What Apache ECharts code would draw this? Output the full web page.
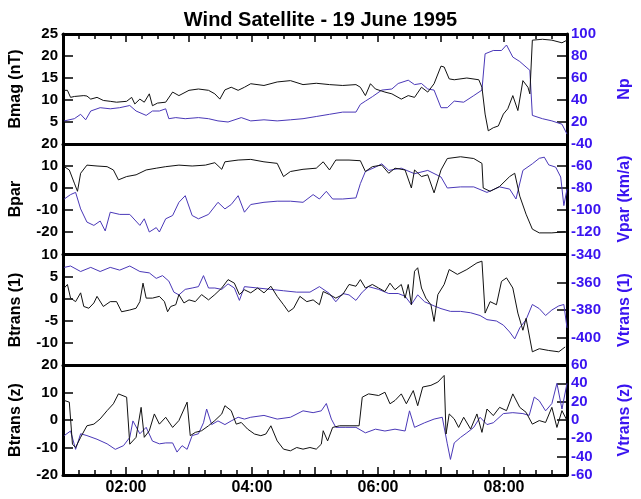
<!DOCTYPE html>
<html><head><meta charset="utf-8">
<script src="https://cdn.jsdelivr.net/npm/echarts@6/dist/echarts.min.js"></script>
<style>html,body{margin:0;padding:0;background:#fff}#c{width:641px;height:499px}</style>
</head><body><div id="c"></div>
<script>
// time in hours (UT), value
const bmag = [[1.02,12.2],[1.07,12.2],[1.12,10.6],[1.18,10.8],[1.33,11.0],[1.38,10.9],[1.44,10.2],[1.54,10.6],[1.64,9.9],[1.75,9.7],[1.85,9.5],[2.01,9.7],[2.09,10.6],[2.14,9.1],[2.22,10.2],[2.29,9.5],[2.37,11.4],[2.42,8.7],[2.50,9.3],[2.63,9.5],[2.74,11.8],[2.84,11.0],[3.00,12.2],[3.15,12.5],[3.31,12.2],[3.41,11.4],[3.49,10.2],[3.57,12.3],[3.67,12.9],[3.78,12.2],[3.88,12.9],[3.98,13.7],[4.19,13.3],[4.40,14.1],[4.61,14.4],[4.81,13.5],[5.02,13.8],[5.23,13.5],[5.44,13.3],[5.65,13.5],[5.72,12.9],[5.80,11.0],[5.88,13.7],[5.96,12.5],[6.11,11.8],[6.22,11.4],[6.37,10.2],[6.48,11.0],[6.58,10.6],[6.69,12.9],[6.79,11.8],[6.89,13.7],[7.00,17.7],[7.05,17.5],[7.13,14.8],[7.21,14.6],[7.41,15.0],[7.60,14.6],[7.65,12.9],[7.70,6.8],[7.75,3.0],[7.83,3.7],[7.91,4.1],[7.99,6.8],[8.06,8.0],[8.14,11.0],[8.22,7.6],[8.30,14.4],[8.38,12.9],[8.41,11.4],[8.45,23.6],[8.61,23.8],[8.76,23.6],[8.92,23.0],[9.00,23.6]];
const np = [[1.02,21],[1.18,23],[1.28,27],[1.36,22],[1.44,30],[1.59,33],[1.75,32],[1.90,33],[2.06,35],[2.16,30],[2.32,26],[2.42,30],[2.53,30],[2.63,32],[2.68,23],[2.79,24],[2.94,23],[3.15,24],[3.31,23],[3.46,21],[3.62,20],[3.83,24],[3.98,21],[4.19,22],[4.40,21],[4.61,22],[4.81,23],[5.02,25],[5.23,27],[5.44,29],[5.65,29],[5.72,36],[5.80,39],[5.91,43],[6.06,49],[6.22,50],[6.32,55],[6.48,58],[6.58,54],[6.69,55],[6.79,50],[6.89,49],[7.00,33],[7.10,33],[7.21,39],[7.36,38],[7.52,44],[7.65,49],[7.70,82],[7.83,85],[7.96,85],[8.04,90],[8.14,79],[8.25,75],[8.35,70],[8.41,67],[8.45,26],[8.61,23],[8.76,21],[8.92,18],[9.00,9]];
const bpar = [[1.02,9.7],[1.10,8.2],[1.18,2.2],[1.23,-1.5],[1.28,6.7],[1.38,10.4],[1.54,10],[1.70,9.7],[1.80,8.2],[1.88,3.7],[2.01,5.2],[2.16,6],[2.32,8.2],[2.48,9],[2.63,9.7],[2.84,10.4],[3.05,10],[3.26,10.4],[3.41,11.5],[3.52,8.5],[3.57,11.9],[3.78,12.7],[3.98,13],[4.19,11.9],[4.40,11.2],[4.50,5.2],[4.61,7.5],[4.81,8.5],[5.02,9],[5.13,11.9],[5.23,8.2],[5.33,12.7],[5.54,12.7],[5.72,12.4],[5.80,7.5],[5.91,9.7],[6.06,10.4],[6.17,6.7],[6.27,9],[6.43,8.2],[6.53,0],[6.58,8.2],[6.69,5.2],[6.79,6],[6.89,-2.2],[7.00,8.2],[7.10,13.4],[7.31,14.2],[7.52,13.4],[7.65,11.2],[7.67,0],[7.78,-1.5],[7.93,0.7],[8.09,5.2],[8.17,6.7],[8.25,-3.7],[8.35,-11.9],[8.45,-18.7],[8.56,-20.4],[8.76,-20.4],[8.97,-19.9]];
const vpar = [[1.02,-90],[1.12,-86],[1.20,-84],[1.28,-99],[1.38,-111],[1.49,-114],[1.59,-110],[1.67,-119],[1.75,-102],[1.90,-104],[2.06,-104],[2.22,-114],[2.29,-108],[2.37,-120],[2.48,-116],[2.53,-120],[2.63,-108],[2.74,-105],[2.84,-93],[2.94,-87],[3.05,-105],[3.15,-108],[3.31,-104],[3.46,-93],[3.57,-99],[3.67,-95],[3.78,-87],[3.88,-102],[3.98,-95],[4.19,-93],[4.40,-92],[4.61,-92],[4.81,-93],[4.97,-86],[5.07,-90],[5.18,-83],[5.28,-90],[5.44,-90],[5.65,-89],[5.72,-76],[5.80,-65],[5.96,-61],[6.06,-58],[6.17,-64],[6.37,-62],[6.58,-67],[6.79,-64],[7.00,-70],[7.10,-80],[7.31,-79],[7.52,-79],[7.73,-84],[7.93,-79],[8.09,-81],[8.19,-90],[8.30,-64],[8.45,-58],[8.56,-53],[8.64,-52],[8.71,-59],[8.82,-61],[8.90,-70],[8.95,-96],[9.00,-81]];
const btr1 = [[1.02,2.5],[1.07,3.3],[1.12,0.2],[1.20,-0.6],[1.28,1.4],[1.33,-1.7],[1.41,-2.1],[1.49,-0.9],[1.54,0.6],[1.64,-1.7],[1.75,-0.6],[1.85,-0.6],[1.93,-2.9],[2.06,-2.5],[2.16,-2.1],[2.22,-0.6],[2.27,3.6],[2.32,0.2],[2.42,0.2],[2.53,0.6],[2.61,-0.6],[2.66,-2.9],[2.71,-1.7],[2.79,-1.3],[2.84,1.0],[2.92,-0.9],[3.00,-0.2],[3.10,-0.6],[3.20,1.0],[3.31,-0.2],[3.41,1.0],[3.52,2.5],[3.62,4.4],[3.72,3.6],[3.80,1.0],[3.88,2.1],[3.98,1.4],[4.09,2.5],[4.19,1.4],[4.30,2.9],[4.40,0.6],[4.50,-1.3],[4.58,-2.9],[4.66,-2.1],[4.76,0.6],[4.87,-0.6],[4.97,-0.2],[5.07,-1.3],[5.13,1.7],[5.23,1.0],[5.33,0.2],[5.44,1.0],[5.54,3.3],[5.65,2.9],[5.72,4.4],[5.80,2.5],[5.91,3.3],[6.01,2.5],[6.11,1.7],[6.19,3.6],[6.27,2.1],[6.37,3.3],[6.43,0.2],[6.48,3.3],[6.53,-1.3],[6.58,6.3],[6.63,7.1],[6.69,2.5],[6.76,0.2],[6.84,-1.3],[6.89,-5.1],[6.95,1.0],[7.05,3.3],[7.13,6.7],[7.26,5.6],[7.41,6.7],[7.57,8.2],[7.65,8.6],[7.70,-3.2],[7.78,-0.6],[7.88,-1.3],[7.96,4.0],[8.04,4.8],[8.14,2.5],[8.22,-3.2],[8.30,-7.1],[8.35,-4.4],[8.45,-12.0],[8.56,-11.3],[8.71,-11.7],[8.87,-12.0],[8.97,-10.9]];
const vtr1 = [[1.02,-349],[1.12,-348],[1.28,-352],[1.44,-349],[1.59,-352],[1.75,-349],[1.90,-351],[2.06,-348],[2.22,-352],[2.37,-353],[2.48,-357],[2.58,-355],[2.68,-359],[2.76,-367],[2.84,-369],[2.94,-365],[3.05,-364],[3.15,-363],[3.23,-355],[3.31,-364],[3.41,-364],[3.52,-365],[3.62,-361],[3.72,-364],[3.80,-373],[3.88,-363],[4.09,-364],[4.30,-365],[4.50,-366],[4.71,-367],[4.92,-367],[5.07,-363],[5.23,-368],[5.33,-374],[5.44,-368],[5.54,-369],[5.65,-373],[5.75,-367],[5.85,-363],[6.01,-365],[6.17,-368],[6.32,-368],[6.43,-370],[6.53,-376],[6.63,-369],[6.74,-374],[6.89,-377],[7.00,-379],[7.15,-381],[7.31,-381],[7.47,-382],[7.62,-384],[7.73,-387],[7.88,-388],[7.99,-391],[8.09,-396],[8.17,-401],[8.25,-393],[8.35,-387],[8.45,-376],[8.56,-379],[8.66,-384],[8.76,-380],[8.87,-377],[8.95,-376],[9.00,-393]];
const btrz = [[1.02,7.1],[1.10,6.5],[1.15,-8.8],[1.20,-10],[1.28,-6.3],[1.38,-2.1],[1.49,-1.5],[1.59,0.4],[1.70,3.4],[1.80,5.9],[1.88,9.5],[2.01,8.3],[2.06,-8.8],[2.16,-6.3],[2.24,4.6],[2.29,-6.3],[2.37,-3.9],[2.45,2.2],[2.53,-1.5],[2.63,1.0],[2.74,-2.7],[2.84,-0.2],[2.97,6.5],[3.02,-5.7],[3.10,-4.5],[3.20,-3.9],[3.31,-2.1],[3.41,-0.2],[3.52,2.2],[3.57,5.2],[3.67,3.4],[3.75,-1.5],[3.83,-0.9],[3.93,-3.3],[4.04,-5.1],[4.14,-5.7],[4.22,-5.1],[4.30,-2.1],[4.40,-7.6],[4.50,-10.6],[4.61,-11.2],[4.71,-10],[4.81,-10.6],[4.92,-10],[5.02,-10.6],[5.10,-8.8],[5.13,-3.9],[5.20,-7.6],[5.28,-2.7],[5.39,-2.1],[5.54,-2.1],[5.70,-2.1],[5.75,8.3],[5.85,9.5],[6.01,8.9],[6.11,10.1],[6.19,5.9],[6.27,7.1],[6.37,9.5],[6.45,5.9],[6.56,10.7],[6.63,5.2],[6.71,12],[6.84,12.6],[6.95,13.8],[7.05,16.2],[7.08,-5.1],[7.13,2.2],[7.21,0.4],[7.28,-2.7],[7.36,1.0],[7.47,-3.3],[7.57,2.2],[7.65,-4.5],[7.73,4.0],[7.83,1.6],[7.93,4.6],[8.04,3.4],[8.14,9.5],[8.25,4.6],[8.35,2.8],[8.45,-1.5],[8.56,-0.2],[8.66,-0.9],[8.76,4.6],[8.84,-2.7],[8.92,3.4],[9.00,-0.2]];
const vtrz = [[1.02,-17],[1.12,-12],[1.20,-32],[1.28,-15],[1.38,-17],[1.54,-21],[1.70,-26],[1.83,-32],[1.96,-28],[2.06,-19],[2.11,-1],[2.22,-15],[2.32,-8],[2.42,-23],[2.53,-26],[2.63,-25],[2.74,-25],[2.81,-35],[2.89,-28],[2.97,-32],[3.05,-17],[3.15,-15],[3.23,-3],[3.28,12],[3.36,-5],[3.46,-1],[3.57,-5],[3.67,-1],[3.78,3],[3.88,1],[3.98,3],[4.19,5],[4.40,1],[4.61,3],[4.81,10],[4.97,8],[5.10,10],[5.18,18],[5.26,1],[5.33,-8],[5.49,-8],[5.65,-8],[5.80,-14],[5.96,-10],[6.11,-12],[6.27,-10],[6.43,-12],[6.50,10],[6.58,-8],[6.74,-3],[6.89,1],[7.02,3],[7.10,-26],[7.15,-43],[7.21,-25],[7.31,-19],[7.41,-14],[7.52,-8],[7.62,3],[7.73,-5],[7.83,-3],[7.99,7],[8.14,8],[8.30,7],[8.40,5],[8.48,25],[8.56,21],[8.66,10],[8.76,18],[8.84,40],[8.92,12],[9.00,40]];

const tickHours = [2, 4, 6, 8];
const tickLabels = ['02:00', '04:00', '06:00', '08:00'];
const leftNames = ['Bmag (nT)', 'Bpar', 'Btrans (1)', 'Btrans (z)'];
const rightNames = ['Np', 'Vpar (km/a)', 'Vtrans (1)', 'Vtrans (z)'];
const leftRanges = [[0, 25, 5], [-30, 20, 10], [-15, 10, 5], [-20, 20, 10]];
const rightRanges = [[0, 100, 20], [-140, -40, 20], [-420, -340, 20], [-60, 60, 20]];
const leftShowMin = [false, false, false, true];
const rightShowMin = [false, false, false, true];

const FONT = 'Liberation Sans, Arial, sans-serif';
const BLUE_TXT = '#3a14f0';
const BLUE_LINE = '#4a38b8';
const tops = [34, 144, 255, 365];
const H = 110;

const grids = [], xAxes = [], yAxes = [], series = [];
const leftData = [bmag, bpar, btr1, btrz];
const rightData = [np, vpar, vtr1, vtrz];
for (let i = 0; i < 4; i++) {
  grids.push({ left: 62, right: 60, top: tops[i], height: H });
  const last = i === 3;
  xAxes.push({
    gridIndex: i, type: 'value', min: 1, max: 9, interval: 1, position: 'bottom',
    axisLine: { show: true, onZero: false, lineStyle: { color: '#000', width: 3 } },
    axisTick: { show: last, inside: true, length: 8, lineStyle: { color: '#000', width: 1.5 } },
    minorTick: { show: last, splitNumber: 4, length: 5, lineStyle: { color: '#000', width: 1.5 } },
    axisLabel: {
      show: last, color: '#000', fontFamily: FONT, fontWeight: 'bold', fontSize: 16, margin: 5,
      formatter: v => { const k = tickHours.indexOf(v); return k >= 0 ? tickLabels[k] : ''; }
    },
    splitLine: { show: false }
  });
  const lr = leftRanges[i], rr = rightRanges[i];
  yAxes.push({
    gridIndex: i, type: 'value', position: 'left', min: lr[0], max: lr[1], interval: lr[2],
    name: leftNames[i], nameLocation: 'middle', nameGap: 39,
    nameTextStyle: { color: '#000', fontFamily: FONT, fontWeight: 'bold', fontSize: 16 },
    axisLine: { show: true, onZero: false, lineStyle: { color: '#000', width: 3 } },
    axisTick: { show: true, inside: true, length: 10, lineStyle: { color: '#000', width: 1.5 } },
    axisLabel: { color: '#000', fontFamily: FONT, fontWeight: 'bold', fontSize: 15, margin: 5, showMinLabel: leftShowMin[i] },
    splitLine: { show: false }
  });
  yAxes.push({
    gridIndex: i, type: 'value', position: 'right', min: rr[0], max: rr[1], interval: rr[2],
    name: rightNames[i], nameLocation: 'middle', nameGap: 50,
    nameTextStyle: { color: BLUE_TXT, fontFamily: FONT, fontWeight: 'bold', fontSize: 16 },
    axisLine: { show: true, onZero: false, lineStyle: { color: '#000', width: 3 } },
    axisTick: { show: true, inside: true, length: 10, lineStyle: { color: '#000', width: 1.5 } },
    axisLabel: { color: BLUE_TXT, fontFamily: FONT, fontWeight: 'bold', fontSize: 15, margin: 4, showMinLabel: rightShowMin[i] },
    splitLine: { show: false }
  });
  series.push({
    type: 'line', xAxisIndex: i, yAxisIndex: 2 * i + 1, data: rightData[i], showSymbol: false,
    lineStyle: { color: BLUE_LINE, width: 1 }, itemStyle: { color: BLUE_LINE }, animation: false, z: 2
  });
  series.push({
    type: 'line', xAxisIndex: i, yAxisIndex: 2 * i, data: leftData[i], showSymbol: false,
    lineStyle: { color: '#111', width: 1 }, itemStyle: { color: '#111' }, animation: false, z: 3
  });
}
// top frame of first panel, with ticks
xAxes.push({
  gridIndex: 0, type: 'value', min: 1, max: 9, interval: 1, position: 'top',
  axisLine: { show: true, onZero: false, lineStyle: { color: '#000', width: 3 } },
  axisTick: { show: true, inside: true, length: 8, lineStyle: { color: '#000', width: 1.5 } },
  minorTick: { show: true, splitNumber: 4, length: 5, lineStyle: { color: '#000', width: 1.5 } },
  axisLabel: { show: false }, splitLine: { show: false }
});

const chart = echarts.init(document.getElementById('c'), null, { renderer: 'canvas' });
chart.setOption({
  backgroundColor: '#fff',
  animation: false,
  title: {
    text: 'Wind Satellite - 19 June 1995', left: 'center', top: 5,
    textStyle: { color: '#000', fontFamily: FONT, fontWeight: 'bold', fontSize: 20 }
  },
  grid: grids, xAxis: xAxes, yAxis: yAxes, series: series
});
</script></body></html>
